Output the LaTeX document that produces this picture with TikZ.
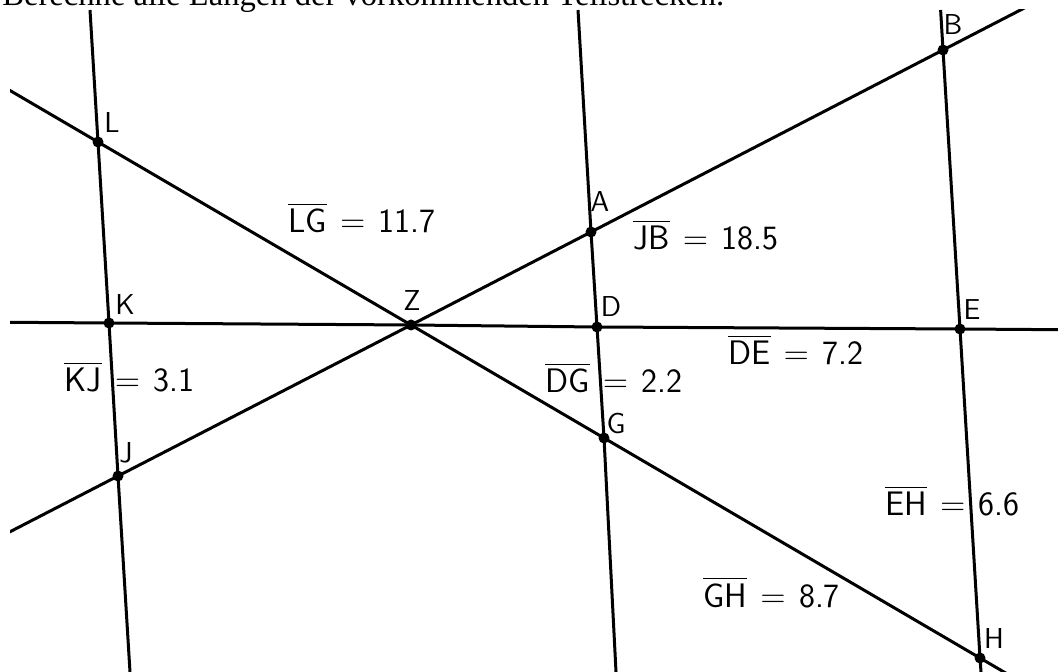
\documentclass[tikz,border=0pt]{standalone}
\usepackage{fontspec}
\newfontfamily\timesfont{Liberation Serif}
\usetikzlibrary{calc}
\newcommand{\seglab}[2]{$\vbox{\hrule height 0.9pt\kern 2pt\hbox{#1}}\mskip 2mu = \mskip 2mu\hbox{#2}$}
\begin{document}
\begin{tikzpicture}[x=0.5pt,y=-0.5pt,
  ln/.style={line width=1.5pt},
  dot/.style={circle,fill=black,inner sep=0pt,minimum size=5.5pt},
  pl/.style={font=\sffamily\fontsize{14.4}{16}\selectfont,inner sep=0pt},
  ll/.style={anchor=base west,font=\sffamily\fontsize{17}{19}\selectfont,inner sep=0pt}]
\useasboundingbox (0,0) rectangle (1058,672);
\node[anchor=base west,font=\timesfont\fontsize{16.3}{18}\selectfont,inner sep=0pt] (title) at (2,6) {Berechne alle Längen der vorkommenden Teilstrecken.};
% points
\coordinate (L) at (98,142);
\coordinate (K) at (109,323);
\coordinate (J) at (118,476);
\coordinate (Z) at (411,325);
\coordinate (A) at (591,232);
\coordinate (D) at (597,327);
\coordinate (G) at (604,438);
\coordinate (B) at (943,50);
\coordinate (E) at (960,329);
\coordinate (H) at (980,658);
% line ends
\coordinate (l1t) at (90,10);
\coordinate (l1b) at (130,672);
\coordinate (l2t) at (578,10);
\coordinate (l2b) at (616,672);
\coordinate (l3t) at (940.6,10);
\coordinate (l3b) at (981,672);
\coordinate (hl) at ($(E)!1.2!(K)$);
\coordinate (hr) at ($(K)!1.2!(E)$);
\coordinate (dl) at ($(H)!1.2!(L)$);
\coordinate (dr) at ($(L)!1.1!(H)$);
\coordinate (ul) at ($(B)!1.2!(J)$);
\coordinate (ur) at ($(J)!1.2!(B)$);
\begin{scope}
\clip (10,10) rectangle (1058,672);
\draw[ln] (l1t) -- (L) -- (K) -- (J) -- (l1b);
\draw[ln] (l2t) -- (A) -- (D) -- (G) -- (l2b);
\draw[ln] (l3t) -- (B) -- (E) -- (H) -- (l3b);
\draw[ln] (hl) -- (K) -- (Z) -- (D) -- (E) -- (hr);
\draw[ln] (dl) -- (L) -- (Z) -- (G) -- (H) -- (dr);
\draw[ln] (ul) -- (J) -- (Z) -- (A) -- (B) -- (ur);
\end{scope}
\foreach \p in {L,K,J,Z,A,D,G,B,E,H} \node[dot] (d\p) at (\p) {};
% point labels
\node[pl] (tB) at (953,25) {B};
\node[pl] (tL) at (112,123) {L};
\node[pl] (tA) at (600,202) {A};
\node[pl] (tD) at (611,307) {D};
\node[pl] (tK) at (125,305) {K};
\node[pl] (tZ) at (412,301) {Z};
\node[pl] (tE) at (972,310) {E};
\node[pl] (tG) at (616,424) {G};
\node[pl] (tJ) at (126,453) {J};
\node[pl] (tH) at (994,639) {H};
% length labels
\node[ll] (mLG) at (288,233) {\seglab{LG}{11.7}};
\node[ll] (mJB) at (633,250) {\seglab{JB}{18.5}};
\node[ll] (mDE) at (728,365) {\seglab{DE}{7.2}};
\node[ll] (mDG) at (545,393) {\seglab{DG}{2.2}};
\node[ll] (mKJ) at (64,392) {\seglab{KJ}{3.1}};
\node[ll] (mEH) at (885,516) {\seglab{EH}{6.6}};
\node[ll] (mGH) at (703,607) {\seglab{GH}{8.7}};
\end{tikzpicture}
\end{document}
